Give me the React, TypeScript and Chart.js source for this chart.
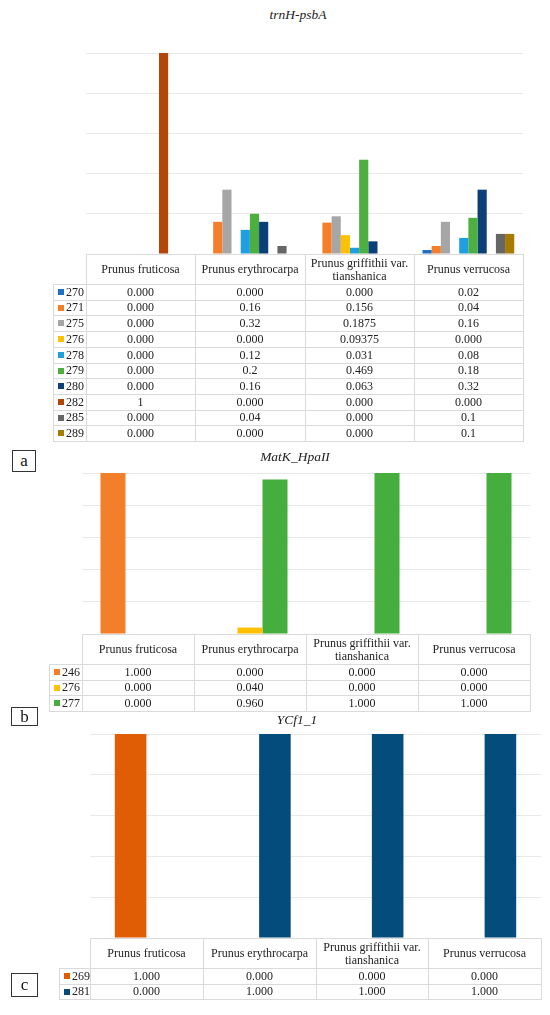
import React, { useEffect, useRef } from 'react';
import { Chart, registerables } from 'chart.js';

Chart.register(...registerables);

// ---------- data ----------
const categories: (string | string[])[] = [
  'Prunus fruticosa',
  'Prunus erythrocarpa',
  ['Prunus griffithii var.', 'tianshanica'],
  'Prunus verrucosa',
];

// panel a: trnH-psbA
const allelesA = ['270', '271', '275', '276', '278', '279', '280', '282', '285', '289'];
const a270 = [0, 0, 0, 0.02];
const a271 = [0, 0.16, 0.156, 0.04];
const a275 = [0, 0.32, 0.1875, 0.16];
const a276 = [0, 0, 0.09375, 0];
const a278 = [0, 0.12, 0.031, 0.08];
const a279 = [0, 0.2, 0.469, 0.18];
const a280 = [0, 0.16, 0.063, 0.32];
const a282 = [1, 0, 0, 0];
const a285 = [0, 0.04, 0, 0.1];
const a289 = [0, 0, 0, 0.1];
const seriesA = [a270, a271, a275, a276, a278, a279, a280, a282, a285, a289];
const colorsA = ['#1f6fc2', '#f47f2a', '#a6a6a6', '#ffc000', '#1e9fdf', '#4caf3f', '#0b3f78', '#b3470a', '#666666', '#a67b00'];

// panel b: MatK_HpaII
const allelesB = ['246', '276', '277'];
const b246 = [1, 0, 0, 0];
const b276 = [0, 0.04, 0, 0];
const b277 = [0, 0.96, 1, 1];
const seriesB = [b246, b276, b277];
const colorsB = ['#f47f2a', '#ffc000', '#45ae3c'];

// panel c: YCf1_1
const allelesC = ['269', '281'];
const c269 = [1, 0, 0, 0];
const c281 = [0, 1, 1, 1];
const seriesC = [c269, c281];
const colorsC = ['#e05c05', '#034c7c'];

const yTicks = [0, 0.2, 0.4, 0.6, 0.8, 1];

const fmtA = (v: number) => (v === 0 ? '0.000' : String(v));
const fmt3 = (v: number) => v.toFixed(3);

const FONT = '"Liberation Serif", "Times New Roman", serif';
const GRID = '#e8e8e8';
const BORDER = '#dadada';

type Rect = { left: number; top: number; width: number; height: number };

function BarPanel(props: {
  labels: string[];
  series: number[][];
  colors: string[];
  plot: Rect;
  cp: number;
}) {
  const ref = useRef<HTMLCanvasElement | null>(null);
  const { plot } = props;
  useEffect(() => {
    if (!ref.current) return;
    const chart = new Chart(ref.current, {
      type: 'bar',
      data: {
        labels: categories as any,
        datasets: props.series.map((s, i) => ({
          label: props.labels[i],
          data: s,
          backgroundColor: props.colors[i],
          borderWidth: 0,
          categoryPercentage: props.cp,
          barPercentage: 1,
        })),
      },
      options: {
        animation: false,
        responsive: false,
        maintainAspectRatio: false,
        devicePixelRatio: 1,
        layout: { padding: { top: 1, bottom: 1, left: 0, right: 0 } },
        plugins: { legend: { display: false }, tooltip: { enabled: false }, title: { display: false } },
        scales: {
          x: { display: false, offset: true },
          y: {
            display: true,
            min: yTicks[0],
            max: yTicks[yTicks.length - 1],
            ticks: { display: false, stepSize: yTicks[1] - yTicks[0] },
            grid: { color: GRID, drawTicks: false, lineWidth: 1 },
            border: { display: false },
            afterFit: (s: any) => {
              s.width = 0;
            },
          },
        },
      },
    });
    return () => chart.destroy();
  }, []);
  return (
    <canvas
      ref={ref}
      width={plot.width}
      height={plot.height + 2}
      style={{ position: 'absolute', left: plot.left, top: plot.top - 1, width: plot.width, height: plot.height + 2 }}
    />
  );
}

function DataTable(props: {
  left: number;
  top: number;
  labelWidth: number;
  colWidth: number;
  headerHeight: number;
  rowHeight: number;
  labels: string[];
  colors: string[];
  series: number[][];
  fmt: (v: number) => string;
}) {
  const { left, top, labelWidth, colWidth, headerHeight, rowHeight } = props;
  const colX = (c: number) => (c === 0 ? left : left + labelWidth + (c - 1) * colWidth);
  const rowY = (r: number) => (r === 0 ? top : top + headerHeight + (r - 1) * rowHeight);
  const cells: React.ReactNode[] = [];
  const nRows = props.series.length + 1;
  const nCols = categories.length + 1;
  for (let r = 0; r < nRows; r++) {
    for (let c = 0; c < nCols; c++) {
      const x0 = Math.round(colX(c));
      const x1 = Math.round(colX(c + 1));
      const y0 = Math.round(rowY(r));
      const y1 = Math.round(rowY(r + 1));
      const isCorner = r === 0 && c === 0;
      const style: React.CSSProperties = {
        position: 'absolute',
        left: x0,
        top: y0,
        width: x1 - x0 + 1,
        height: y1 - y0 + 1,
        boxSizing: 'border-box',
        borderRight: `1px solid ${BORDER}`,
        borderBottom: `1px solid ${BORDER}`,
        borderTop: r === 0 && !isCorner ? `1px solid ${BORDER}` : 'none',
        borderLeft: c === 0 && !isCorner ? `1px solid ${BORDER}` : 'none',
        display: 'flex',
        alignItems: 'center',
        fontSize: 12,
        color: '#222',
        whiteSpace: 'nowrap',
      };
      let content: React.ReactNode = null;
      if (r === 0 && c > 0) {
        const cat = categories[c - 1];
        const lines = Array.isArray(cat) ? cat : [cat];
        style.justifyContent = 'center';
        style.textAlign = 'center';
        style.lineHeight = '13px';
        content = (
          <div>
            {lines.map((l, i) => (
              <div key={i}>{l}</div>
            ))}
          </div>
        );
      } else if (r > 0 && c === 0) {
        style.paddingLeft = 4;
        content = (
          <>
            <span
              style={{
                display: 'inline-block',
                width: 6,
                height: 6,
                background: props.colors[r - 1],
                marginRight: 2,
              }}
            />
            <span>{props.labels[r - 1]}</span>
          </>
        );
      } else if (r > 0 && c > 0) {
        style.justifyContent = 'center';
        content = props.fmt(props.series[r - 1][c - 1]);
      }
      cells.push(
        <div key={`${r}-${c}`} style={style}>
          {content}
        </div>
      );
    }
  }
  return <>{cells}</>;
}

function Title(props: { text: string; cx: number; cy: number }) {
  return (
    <div
      style={{
        position: 'absolute',
        left: props.cx - 100,
        top: props.cy - 9,
        width: 200,
        height: 18,
        lineHeight: '18px',
        textAlign: 'center',
        fontStyle: 'italic',
        fontSize: 13.5,
        color: '#222',
      }}
    >
      {props.text}
    </div>
  );
}

function PanelLabel(props: { text: string; left: number; top: number; width: number; height: number }) {
  return (
    <div
      style={{
        position: 'absolute',
        left: props.left,
        top: props.top,
        width: props.width,
        height: props.height,
        boxSizing: 'border-box',
        border: '1px solid #333',
        display: 'flex',
        alignItems: 'center',
        justifyContent: 'center',
        fontSize: 17,
        color: '#111',
        background: '#fff',
      }}
    >
      {props.text}
    </div>
  );
}

export default function App() {
  return (
    <div
      style={{
        position: 'absolute',
        left: 0,
        top: 0,
        width: 550,
        height: 1015,
        background: '#fff',
        fontFamily: FONT,
        overflow: 'hidden',
      }}
    >
      {/* panel a */}
      <Title text="trnH-psbA" cx={298} cy={15} />
      <BarPanel labels={allelesA} series={seriesA} colors={colorsA} plot={{ left: 86, top: 53, width: 437, height: 201 }} cp={0.84} />
      <DataTable
        left={53}
        top={254}
        labelWidth={33}
        colWidth={109.25}
        headerHeight={30}
        rowHeight={15.7}
        labels={allelesA}
        colors={colorsA}
        series={seriesA}
        fmt={fmtA}
      />
      <PanelLabel text="a" left={12} top={450} width={24} height={22} />

      {/* panel b */}
      <Title text="MatK_HpaII" cx={295} cy={457} />
      <BarPanel labels={allelesB} series={seriesB} colors={colorsB} plot={{ left: 82, top: 473, width: 448, height: 161 }} cp={0.67} />
      <DataTable
        left={49}
        top={634}
        labelWidth={33}
        colWidth={112}
        headerHeight={30}
        rowHeight={15.67}
        labels={allelesB}
        colors={colorsB}
        series={seriesB}
        fmt={fmt3}
      />
      <PanelLabel text="b" left={11} top={707} width={27} height={19} />

      {/* panel c */}
      <Title text="YCf1_1" cx={297} cy={720} />
      <BarPanel labels={allelesC} series={seriesC} colors={colorsC} plot={{ left: 90, top: 734, width: 451, height: 204 }} cp={0.56} />
      <DataTable
        left={59}
        top={938}
        labelWidth={31}
        colWidth={112.75}
        headerHeight={30}
        rowHeight={15.5}
        labels={allelesC}
        colors={colorsC}
        series={seriesC}
        fmt={fmt3}
      />
      <PanelLabel text="c" left={11} top={973} width={27} height={24} />
    </div>
  );
}
